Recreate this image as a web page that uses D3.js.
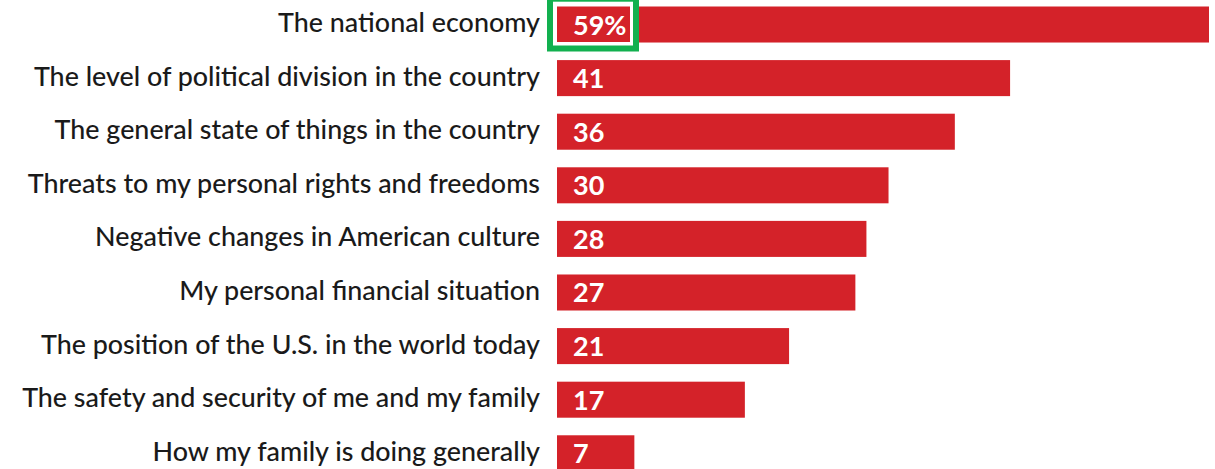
<!DOCTYPE html>
<html>
<head>
<meta charset="utf-8">
<script src="https://cdn.jsdelivr.net/npm/d3@7"></script>
<style>
  html, body { margin: 0; padding: 0; background: #ffffff; overflow: hidden; }
  svg { display: block; }
</style>
</head>
<body>
<svg id="chart" width="1215" height="469"></svg>
<script>
// Concerns, share of respondents (%)
const categories = [
  "The national economy",
  "The level of political division in the country",
  "The general state of things in the country",
  "Threats to my personal rights and freedoms",
  "Negative changes in American culture",
  "My personal financial situation",
  "The position of the U.S. in the world today",
  "The safety and security of me and my family",
  "How my family is doing generally"
];
const values = [59, 41, 36, 30, 28, 27, 21, 17, 7];
const valueLabels = ["59%", "41", "36", "30", "28", "27", "21", "17", "7"];

const RED = "#d42229";
const GREEN = "#12b04f";
const FONT = "Lato, 'Noto Sans', sans-serif";

const svg = d3.select("#chart");

const x = d3.scaleLinear().domain([0, 59]).range([557, 1209]);
const y = d3.scaleBand()
  .domain(categories)
  .range([6.5, 471.3])
  .paddingInner(0.328)
  .paddingOuter(0);

// Bars
svg.append("g")
  .selectAll("rect")
  .data(values)
  .join("rect")
  .attr("x", x(0))
  .attr("y", (d, i) => y(categories[i]))
  .attr("width", d => x(d) - x(0))
  .attr("height", y.bandwidth())
  .attr("fill", RED);

// Category labels, right-aligned against the bars
const labels = svg.append("g")
  .selectAll("text")
  .data(categories)
  .join("text")
  .attr("x", 540)
  .attr("y", d => y(d) + y.bandwidth() / 2 + 7.5)
  .attr("text-anchor", "end")
  .attr("fill", "#1a1a1a")
  .style("font-family", FONT)
  .style("font-weight", 500)
  .style("font-size", "24px")
  .text(d => d);

// Size the labels so the longest one spans its column
let widest = 0;
labels.each(function () { widest = Math.max(widest, this.getComputedTextLength()); });
const labelSize = 24 * 518 / widest;
labels.style("font-size", labelSize + "px");

// Value labels inside bars
svg.append("g")
  .selectAll("text")
  .data(values)
  .join("text")
  .attr("x", x(0) + 16)
  .attr("y", (d, i) => y(categories[i]) + y.bandwidth() / 2 + 10)
  .attr("fill", "#ffffff")
  .style("font-family", FONT)
  .style("font-weight", 700)
  .style("font-size", "27px")
  .text((d, i) => valueLabels[i]);

// Highlight box around the top value
const top0 = y(categories[0]);
svg.append("rect")
  .attr("x", 554.5)
  .attr("y", top0 - 3.5)
  .attr("width", 77)
  .attr("height", 40.5)
  .attr("fill", "none")
  .attr("stroke", "#ffffff")
  .attr("stroke-width", 3);
svg.append("rect")
  .attr("x", 550)
  .attr("y", top0 - 7.8)
  .attr("width", 86)
  .attr("height", 49.8)
  .attr("fill", "none")
  .attr("stroke", GREEN)
  .attr("stroke-width", 6);
</script>
</body>
</html>
